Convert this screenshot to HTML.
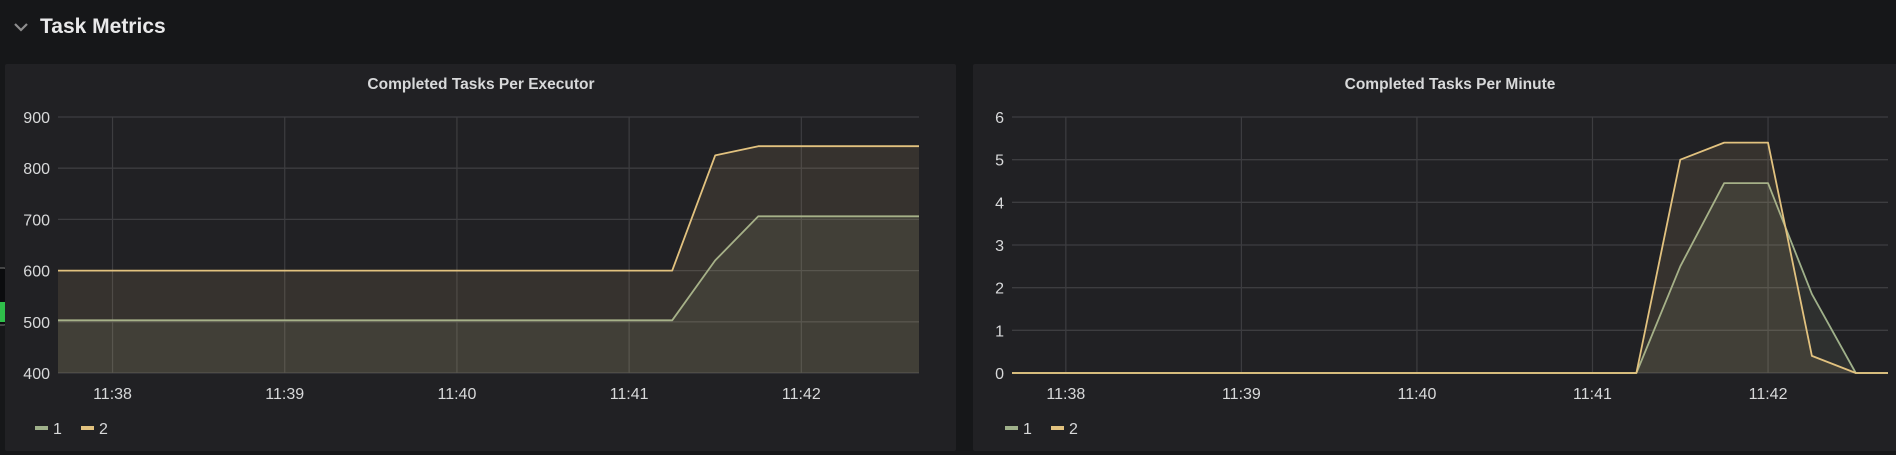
<!DOCTYPE html>
<html><head><meta charset="utf-8"><style>
html,body{margin:0;padding:0;background:#161719;width:1896px;height:455px;overflow:hidden;font-family:"Liberation Sans",sans-serif;}
svg{position:absolute;left:0;top:0}
</style></head><body>
<svg id="root" width="1896" height="455">
  <g>
    <path d="M15 24 L21 30 L27 24" fill="none" stroke="#8e8e8e" stroke-width="2.2"/>
    <text x="40" y="33" fill="#e9e9ea" font-size="21" font-weight="bold">Task Metrics</text>
  </g>
  <g>
    <rect x="-3" y="268" width="9" height="57" rx="2" fill="#0b0c0e" stroke="#777" stroke-width="1"/>
    <rect x="0" y="302" width="5" height="20" fill="#2fbf4a"/>
  </g>
  <rect x="5" y="64" width="951" height="387" rx="2" fill="#212124"/>
  <rect x="973" y="64" width="930" height="387" rx="2" fill="#212124"/>
  <g id="c1"></g>
  <g id="c2"></g>
</svg>
<script>
// time offsets in seconds from 11:38:00
const dataTimes = [-19, 195, 210, 225, 240, 255, 270, 281];
const execSeries1 = [503, 503, 620, 706, 706, 706, 706, 706];
const execSeries2 = [600, 600, 825, 843, 843, 843, 843, 843];
const minuteSeries1 = [0, 0, 2.5, 4.45, 4.45, 1.85, 0, 0];
const minuteSeries2 = [0, 0, 5.0, 5.4, 5.4, 0.4, 0, 0];
const execYTicks = [400,500,600,700,800,900];
const minuteYTicks = [0,1,2,3,4,5,6];
const xTickLabels = ["11:38","11:39","11:40","11:41","11:42"];
const xTickSecs = [0,60,120,180,240];
const seriesNames = ["1","2"];

const NS = "http://www.w3.org/2000/svg";
function mk(tag, attrs, parent) {
  const e = document.createElementNS(NS, tag);
  for (const k in attrs) e.setAttribute(k, attrs[k]);
  parent.appendChild(e);
  return e;
}
const C1 = "#9fb08a", C2 = "#e2c27f";

function chart(g, cfg) {
  const {L, R, T, B, tMin, tMax, yMin, yMax, yTicks, s1, s2, title, titleX, legendX} = cfg;
  const xs = t => L + (t - tMin) / (tMax - tMin) * (R - L);
  const ys = v => B - (v - yMin) / (yMax - yMin) * (B - T);
  const t = mk("text", {x: titleX, y: 89, fill: "#d8d9da", "font-size": 15.5, "font-weight": "bold", "text-anchor": "middle"}, g);
  t.textContent = title;
  
  
  yTicks.forEach(v => {
    const ln = mk("line", {x1: L, x2: R, y1: ys(v), y2: ys(v), stroke: "#3d3d40", "stroke-width": 1.3}, g);
    
    
    const tx = mk("text", {x: L - 8, y: ys(v) + 6, fill: "#d8d9da", "font-size": 16, "text-anchor": "end"}, g);
    tx.textContent = v;
    
    
  });
  xTickSecs.forEach((s, i) => {
    const ln = mk("line", {x1: xs(s), x2: xs(s), y1: T, y2: B, stroke: "#3d3d40", "stroke-width": 1.2}, g);
    
    
    const tx = mk("text", {x: xs(s), y: 399, fill: "#d8d9da", "font-size": 16, "text-anchor": "middle"}, g);
    tx.textContent = xTickLabels[i];
    
    
  });
  [[s1, C1, "series-1"], [s2, C2, "series-2"]].forEach(([arr, col, nm]) => {
    let d = "";
    arr.forEach((v, i) => { const x = Math.min(Math.max(xs(dataTimes[i]), L), R); d += (i ? "L" : "M") + x.toFixed(1) + " " + ys(v).toFixed(1) + " "; });
    const area = mk("path", {d: d + "L" + R + " " + B + " L" + L + " " + B + " Z", fill: col, "fill-opacity": 0.11}, g);
    
    
    const line = mk("path", {d: d, fill: "none", stroke: col, "stroke-width": 1.8, "stroke-linejoin": "round"}, g);
    
    
  });
  seriesNames.forEach((n, i) => {
    const x0 = legendX + i * 46;
    const lg = mk("g", {}, g);
    
    
    mk("rect", {x: x0, y: 426, width: 13, height: 4, fill: i ? C2 : C1}, lg);
    const tx = mk("text", {x: x0 + 18, y: 434, fill: "#d8d9da", "font-size": 16}, lg);
    tx.textContent = n;
  });
}
chart(document.getElementById("c1"), {L: 58, R: 919, T: 117, B: 373, tMin: -19, tMax: 281, yMin: 400, yMax: 900, yTicks: execYTicks, s1: execSeries1, s2: execSeries2, title: "Completed Tasks Per Executor", titleX: 481, legendX: 35});
chart(document.getElementById("c2"), {L: 1012, R: 1888, T: 117, B: 373, tMin: -18.4, tMax: 281, yMin: 0, yMax: 6, yTicks: minuteYTicks, s1: minuteSeries1, s2: minuteSeries2, title: "Completed Tasks Per Minute", titleX: 1450, legendX: 1005});
</script>
</body></html>
